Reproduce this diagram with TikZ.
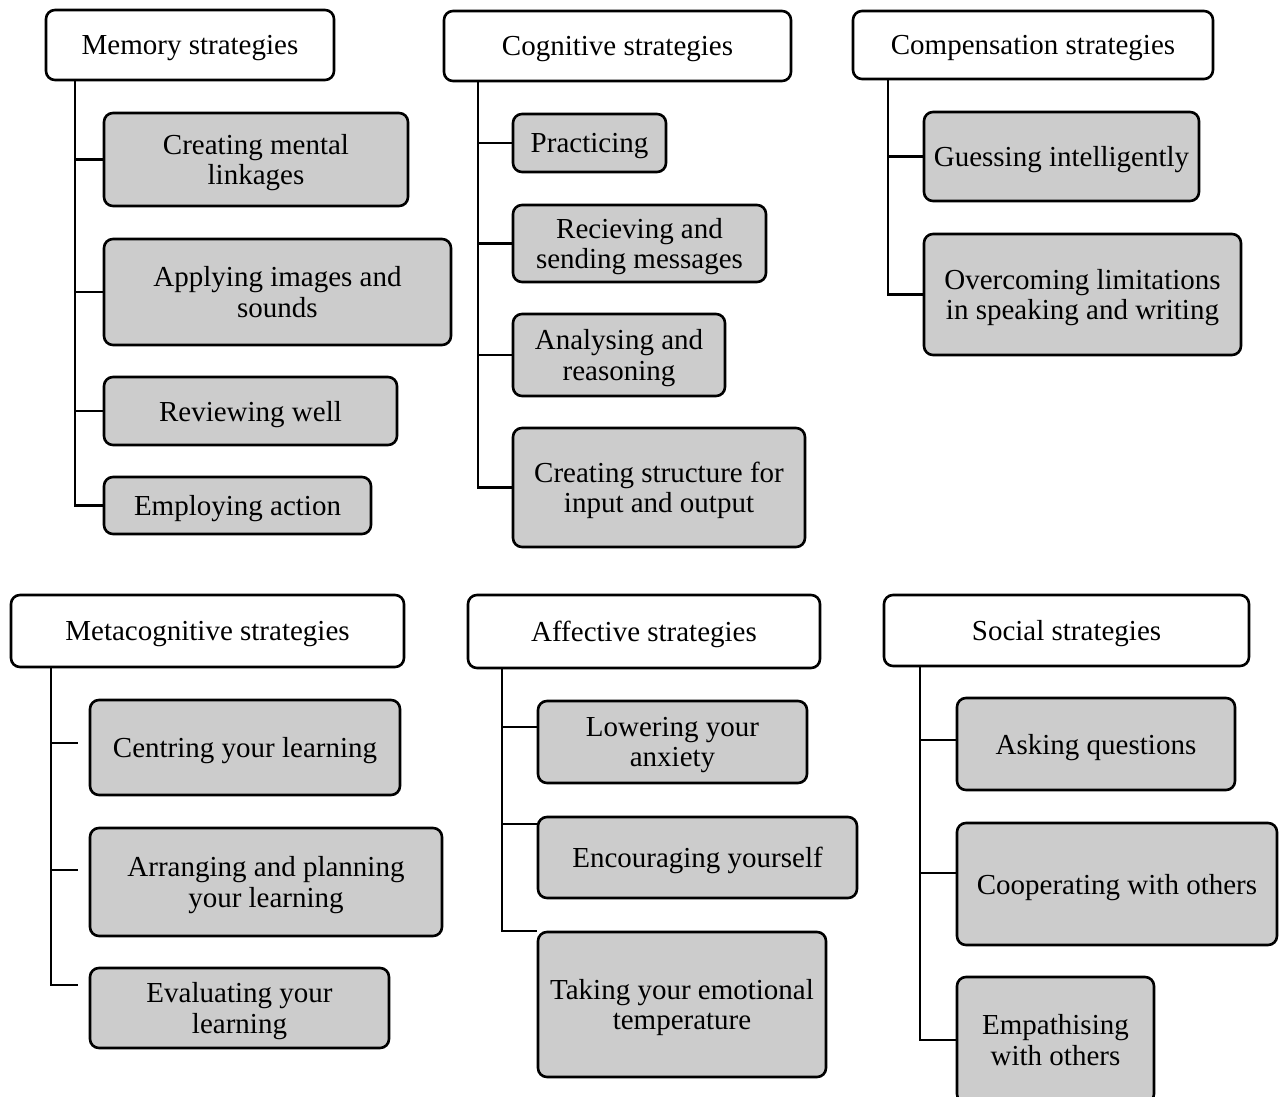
\documentclass[tikz,border=0pt]{standalone}
\usepackage{fontspec}
\setmainfont{Liberation Serif}
\definecolor{boxgrey}{gray}{0.8}
\begin{document}
\begin{tikzpicture}[x=1pt, y=-1pt,
    head/.style={draw, rounded corners=9pt, line width=2.6pt, fill=white,
      align=center, inner sep=0pt, text depth=0pt,
      font=\fontsize{29}{30.5}\selectfont},
    sub/.style={head, fill=boxgrey},
    tree/.style={line width=2.6pt}]
  \useasboundingbox (0,0) rectangle (1279,1097);
  \clip (0,0) rectangle (1279,1097);

  % memory strategies
  \node[head, minimum width=288pt, minimum height=70pt] (mem) at (190,45) {Memory strategies};
  \node[sub, minimum width=304pt, minimum height=93pt] (m1) at (256,159.5) {Creating mental\\linkages};
  \node[sub, minimum width=347pt, minimum height=106pt] (m2) at (277.5,292) {Applying images and\\sounds};
  \node[sub, minimum width=293pt, minimum height=68pt] (m3) at (250.5,411) {Reviewing well};
  \node[sub, minimum width=267pt, minimum height=57pt] (m4) at (237.5,505.5) {Employing action};
  \coordinate (memx) at (75,0);
  \draw[tree] (memx |- mem.south) |- (m4.west);
  \foreach \n in {m1,m2,m3}
    \draw[tree] (memx |- \n.west) -- (\n.west);

  % cognitive strategies
  \node[head, minimum width=347pt, minimum height=70pt] (cog) at (617.5,46) {Cognitive strategies};
  \node[sub, minimum width=153pt, minimum height=58pt] (c1) at (589.5,143) {Practicing};
  \node[sub, minimum width=253pt, minimum height=77pt] (c2) at (639.5,243.5) {Recieving and\\sending messages};
  \node[sub, minimum width=212pt, minimum height=82pt] (c3) at (619,355) {Analysing and\\reasoning};
  \node[sub, minimum width=292pt, minimum height=119pt] (c4) at (659,487.5) {Creating structure for\\input and output};
  \coordinate (cogx) at (478,0);
  \draw[tree] (cogx |- cog.south) |- (c4.west);
  \foreach \n in {c1,c2,c3}
    \draw[tree] (cogx |- \n.west) -- (\n.west);

  % compensation strategies
  \node[head, minimum width=360pt, minimum height=68pt] (com) at (1033,45) {Compensation strategies};
  \node[sub, minimum width=275pt, minimum height=89pt] (p1) at (1061.5,156.5) {Guessing intelligently};
  \node[sub, minimum width=317pt, minimum height=121pt] (p2) at (1082.5,294.5) {Overcoming limitations\\in speaking and writing};
  \coordinate (comx) at (888,0);
  \draw[tree] (comx |- com.south) |- (p2.west);
  \draw[tree] (comx |- p1.west) -- (p1.west);

  % metacognitive strategies
  \node[head, minimum width=393pt, minimum height=72pt] (met) at (207.5,631) {Metacognitive strategies};
  \node[sub, minimum width=310pt, minimum height=95pt] (t1) at (245,747.5) {Centring your learning};
  \node[sub, minimum width=352pt, minimum height=108pt] (t2) at (266,882) {Arranging and planning\\your learning};
  \node[sub, minimum width=299pt, minimum height=80pt] (t3) at (239.5,1008) {Evaluating your\\learning};
  \coordinate (metx) at (51,0);
  \coordinate (t1e) at ([xshift=-11pt, yshift=4.5pt]t1.west);
  \coordinate (t2e) at ([xshift=-11pt, yshift=12pt]t2.west);
  \coordinate (t3e) at ([xshift=-11pt, yshift=23pt]t3.west);
  \draw[tree] (metx |- met.south) |- (t3e);
  \foreach \n in {t1e,t2e}
    \draw[tree] (metx |- \n) -- (\n);

  % affective strategies
  \node[head, minimum width=352pt, minimum height=73pt] (aff) at (644,631.5) {Affective strategies};
  \node[sub, minimum width=269pt, minimum height=82pt] (a1) at (672.5,742) {Lowering your\\anxiety};
  \node[sub, minimum width=319pt, minimum height=81pt] (a2) at (697.5,857.5) {Encouraging yourself};
  \node[sub, minimum width=288pt, minimum height=145pt] (a3) at (682,1004.5) {Taking your emotional\\temperature};
  \coordinate (affx) at (502,0);
  \coordinate (a1e) at ([yshift=15pt]a1.west);
  \coordinate (a2e) at ([yshift=33.5pt]a2.west);
  \coordinate (a3e) at ([yshift=73.5pt]a3.west);
  \draw[tree] (affx |- aff.south) |- (a3e);
  \foreach \n in {a1e,a2e}
    \draw[tree] (affx |- \n) -- (\n);

  % social strategies
  \node[head, minimum width=365pt, minimum height=71pt] (soc) at (1066.5,630.5) {Social strategies};
  \node[sub, minimum width=278pt, minimum height=92pt] (s1) at (1096,744) {Asking questions};
  \node[sub, minimum width=320pt, minimum height=122pt] (s2) at (1117,884) {Cooperating with others};
  \node[sub, minimum width=197pt, minimum height=126pt] (s3) at (1055.5,1040) {Empathising\\with others};
  \coordinate (socx) at (920,0);
  \coordinate (s1e) at ([yshift=4pt]s1.west);
  \coordinate (s2e) at ([yshift=11pt]s2.west);
  \draw[tree] (socx |- soc.south) |- (s3.west);
  \foreach \n in {s1e,s2e}
    \draw[tree] (socx |- \n) -- (\n);
\end{tikzpicture}
\end{document}
